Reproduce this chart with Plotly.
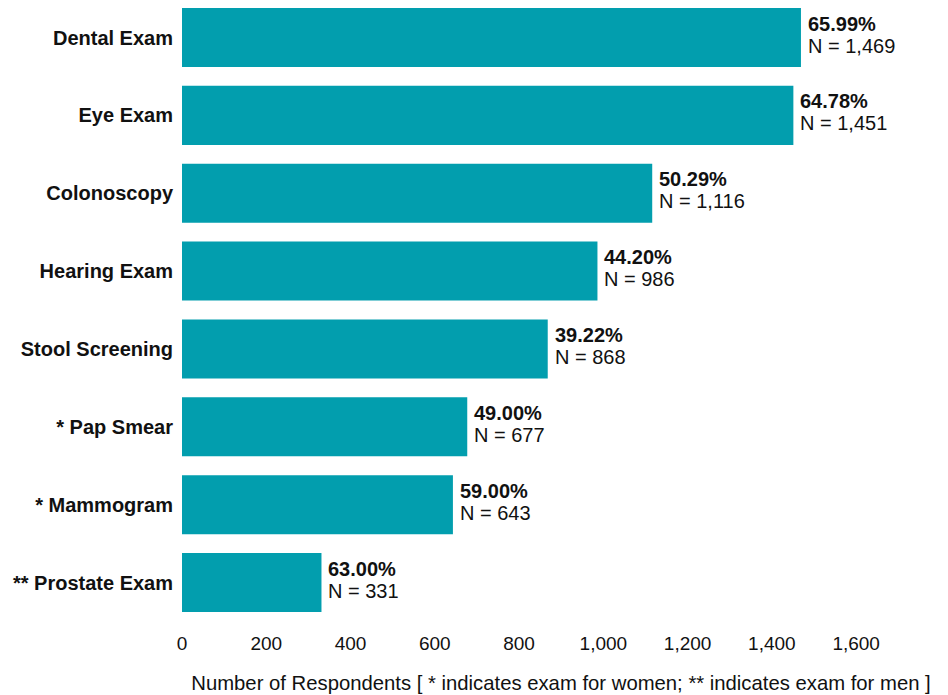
import plotly.graph_objects as go

categories = ["Dental Exam", "Eye Exam", "Colonoscopy", "Hearing Exam",
              "Stool Screening", "* Pap Smear", "* Mammogram", "** Prostate Exam"]
respondents = [1469, 1451, 1116, 986, 868, 677, 643, 331]
percent_labels = ["65.99%", "64.78%", "50.29%", "44.20%", "39.22%", "49.00%", "59.00%", "63.00%"]
tick_vals = [0, 200, 400, 600, 800, 1000, 1200, 1400, 1600]

BAR = "#029EAE"
FONT = "Liberation Sans, Arial, sans-serif"
TXT = "#111111"

fig = go.Figure()
fig.add_trace(go.Bar(
    x=respondents, y=categories, orientation="h",
    marker=dict(color=BAR, line=dict(width=0)),
    hoverinfo="skip",
))

for cat, v, p in zip(categories, respondents, percent_labels):
    fig.add_annotation(x=v, y=cat, text=f"<b>{p}</b>", showarrow=False,
                       xanchor="left", yanchor="middle", xshift=5, yshift=14,
                       font=dict(size=20, color=TXT, family=FONT))
    fig.add_annotation(x=v, y=cat, text=f"N = {v:,}", showarrow=False,
                       xanchor="left", yanchor="middle", xshift=5, yshift=-8,
                       font=dict(size=20, color=TXT, family=FONT))

fig.update_layout(
    width=948, height=695,
    margin=dict(l=174, r=16, t=0, b=81),
    paper_bgcolor="white", plot_bgcolor="white",
    bargap=0.242,
    showlegend=False,
    font=dict(family=FONT, color=TXT),
    xaxis=dict(
        range=[0, 1799], tickvals=tick_vals, tickformat=",",
        showgrid=False, zeroline=False, showline=False,
        ticks="outside", ticklen=4, tickcolor="rgba(0,0,0,0)",
        tickfont=dict(size=19, family=FONT, color=TXT),
        title=dict(text="Number of Respondents [ * indicates exam for women; ** indicates exam for men ]",
                   font=dict(size=20.3, family=FONT, color=TXT), standoff=22),
    ),
    yaxis=dict(
        type="category", categoryorder="array", categoryarray=categories,
        range=[7.507, -0.379],
        showgrid=False, zeroline=False, showline=False,
        ticks="outside", ticklen=4, tickcolor="rgba(0,0,0,0)",
        tickfont=dict(size=20, family=FONT, color=TXT, weight="bold"),
    ),
)

fig.write_html("out.html")
